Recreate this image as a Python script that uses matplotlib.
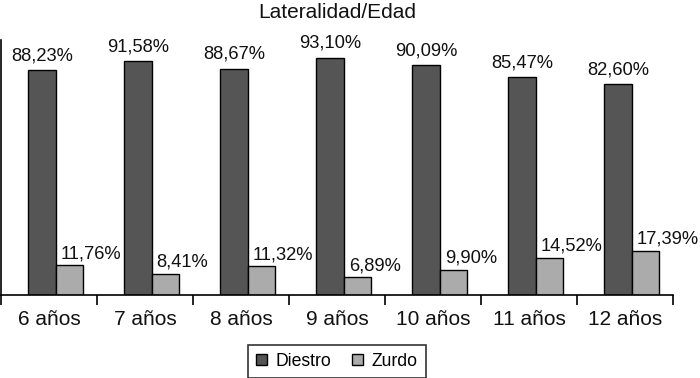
import matplotlib
matplotlib.use("Agg")
import matplotlib.pyplot as plt
from matplotlib.patches import Patch

plt.rcParams['font.family'] = ['Liberation Sans', 'DejaVu Sans']

categories = ["6 años", "7 años", "8 años", "9 años", "10 años", "11 años", "12 años"]
diestro = [88.23, 91.58, 88.67, 93.10, 90.09, 85.47, 82.60]
zurdo = [11.76, 8.41, 11.32, 6.89, 9.90, 14.52, 17.39]
diestro_labels = ["88,23%", "91,58%", "88,67%", "93,10%", "90,09%", "85,47%", "82,60%"]
zurdo_labels = ["11,76%", "8,41%", "11,32%", "6,89%", "9,90%", "14,52%", "17,39%"]
title = "Lateralidad/Edad"
series_names = ["Diestro", "Zurdo"]

c_dark = "#555555"
c_light = "#ababab"

fig = plt.figure(figsize=(7.0, 3.78), dpi=100)
ax = fig.add_axes([1/700, 83/378, 672/700, 255/378])

n = len(categories)
idx = list(range(n))
w = 0.287
d_left = [i + 0.283 for i in idx]
z_left = [i + 0.283 + w for i in idx]

ax.bar(d_left, diestro, width=w, align='edge', color=c_dark, edgecolor='black', linewidth=1.0)
ax.bar(z_left, zurdo, width=w, align='edge', color=c_light, edgecolor='black', linewidth=1.0)

for x, v, s in zip(d_left, diestro, diestro_labels):
    ax.annotate(s, (x + w / 2, v), xytext=(0, 6), textcoords='offset pixels',
                ha='center', va='bottom', fontsize=13.2, color='#111111')
for x, v, s in zip(z_left, zurdo, zurdo_labels):
    ax.annotate(s, (x, v), xytext=(5, 3), textcoords='offset pixels',
                ha='left', va='bottom', fontsize=13.2, color='#111111')

ax.set_xlim(0, n)
ax.set_ylim(0, 100)
ax.set_xticks(range(n + 1))
ax.set_xticklabels([])
ax.set_xticks([i + 0.5 for i in idx], minor=True)
ax.set_xticklabels(categories, minor=True, fontsize=15, color='#111111')
ax.tick_params(axis='x', which='major', direction='out', length=7, width=1.2, color='black')
ax.tick_params(axis='x', which='minor', length=0, pad=11)
ax.set_yticks([])
ax.spines['top'].set_visible(False)
ax.spines['right'].set_visible(False)
ax.spines['left'].set_linewidth(1.2)
ax.spines['bottom'].set_linewidth(1.2)

fig.text(337/700, 1 - 12.5/378, title, ha='center', va='center', fontsize=15, color='#111111')

handles = [Patch(facecolor=c_dark, edgecolor='black', linewidth=1.0),
           Patch(facecolor=c_light, edgecolor='black', linewidth=1.0)]
leg = fig.legend(handles, series_names, loc='center', bbox_to_anchor=(337/700, 1 - 361.5/378),
                 ncol=2, fontsize=12.7, frameon=True, fancybox=False, edgecolor='black',
                 handlelength=0.6, handleheight=0.6, handletextpad=0.5, columnspacing=1.2,
                 borderpad=0.45)
leg.get_frame().set_linewidth(1.2)

fig.savefig("out.png", dpi=100, facecolor='white')
